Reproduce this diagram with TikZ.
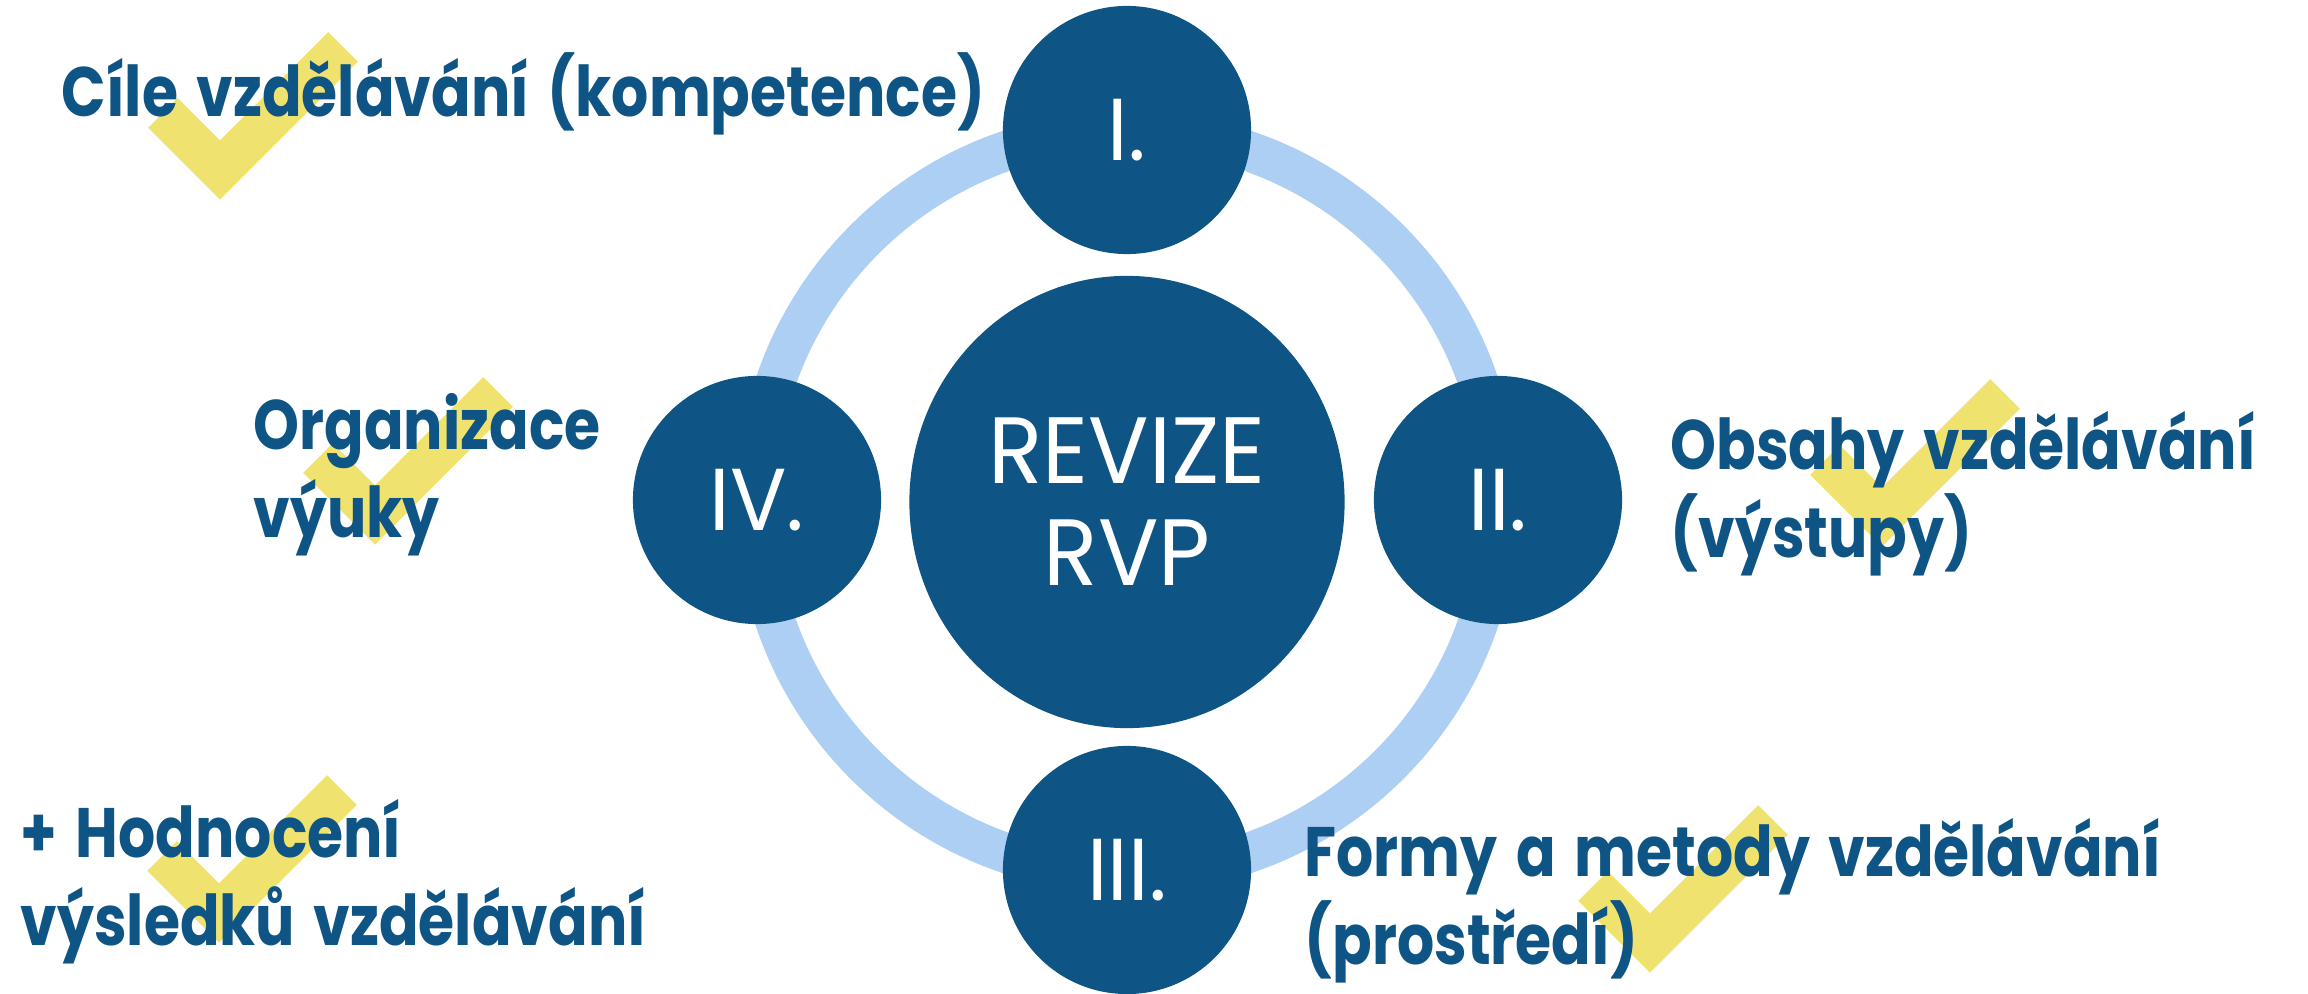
\documentclass[tikz,border=0pt]{standalone}
\usepackage{fontspec}
\newfontfamily\labfont{Poppins}[FakeStretch=0.835,WordSpace=1.5]
\newfontfamily\numfont{Poppins}[FakeStretch=0.95]
\usetikzlibrary{shapes.geometric}
\definecolor{rvpblue}{HTML}{0E5484}
\definecolor{ringblue}{HTML}{AECFF4}
\definecolor{tickyellow}{HTML}{F0E26E}
\tikzset{
  numdisk/.style={circle, fill=rvpblue, text=white, minimum size=2.48cm, inner sep=0pt,
    font=\numfont\fontsize{25}{30}\selectfont},
  goaltext/.style={anchor=base west, align=left, text=rvpblue, inner sep=0pt,
    font=\labfont\bfseries\fontsize{19.9}{24.75}\selectfont},
  yestick/.style={draw=tickyellow, line width=11.95pt, line join=miter, line cap=butt}
}
\begin{document}
\begin{tikzpicture}[x=0.01cm,y=-0.01cm]
    \useasboundingbox (0,0) rectangle (2308,994);
    %% ring and centre
    \coordinate (mid) at (1127,502);
    \draw[ringblue, line width=11.4pt] (mid) circle[radius=3.71cm];
    \node[ellipse, fill=rvpblue, minimum width=4.35cm, minimum height=4.52cm, inner sep=0pt,
      text=white, align=center, font=\numfont\fontsize{26.8}{29}\selectfont] (rev) at (mid) {REVIZE\\RVP};
    %% the four steps
    \node[numdisk] (st1) at (1127,130) {I.};
    \node[numdisk] (st2) at (1498,500) {II.};
    \node[numdisk] (st3) at (1127,870) {III.};
    \node[numdisk] (st4) at (757,500) {IV.};
    %% ticks
    \foreach \vx/\vy in {220/170, 375/515, 1882/517, 219/913, 1650/943}
      \draw[yestick] (\vx-57,\vy-57) -- (\vx,\vy) -- (\vx+123,\vy-123);
    %% texts (two-line nodes sit on the baseline of their last line)
    \node[goaltext] (goal) at (61,117) {Cíle vzdělávání (kompetence)};
    \node[goaltext] (org) at (253,537) {Organizace\\výuky};
    \node[goaltext] (cont) at (1670,557) {Obsahy vzdělávání\\(výstupy)};
    \node[goaltext] (eval) at (20,945) {+ Hodnocení\\výsledků vzdělávání};
    \node[goaltext] (meth) at (1304,964) {Formy a metody vzdělávání\\(prostředí)};
\end{tikzpicture}
\end{document}
